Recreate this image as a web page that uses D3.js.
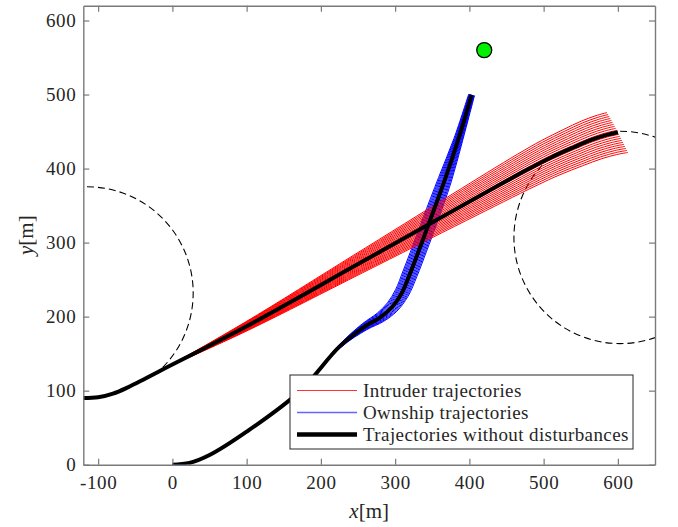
<!DOCTYPE html>
<html>
<head>
<meta charset="utf-8">
<script src="https://cdn.jsdelivr.net/npm/d3@7"></script>
<style>
  body { margin: 0; background: #fff; }
  text { font-family: "Liberation Serif", "Times New Roman", serif; fill: #262626; }
</style>
</head>
<body>
<div id="chart"></div>
<script>
// Nominal trajectories (metres)
var intruderX = [-120, -100, -80, -60, -40, -17.5, 100, 250, 387, 477, 510, 540, 565, 585, 600];
var intruderY = [90, 91, 96, 104.5, 114.5, 126.3, 187, 271, 348, 398, 415, 428.5, 439, 445.5, 449];
var intruderPivot = 5; // disturbed runs fan out where the intruder leaves its circle
var intruderHeadingDev = [-2.5, -2.25, -2, -1.75, -1.5, -1.25, -1, -0.75, -0.5, -0.25, 0,
                          0.25, 0.5, 0.75, 1, 1.25, 1.5, 1.75, 2, 2.25, 2.5]; // degrees

var ownshipX = [0, 23, 50, 100, 171, 225, 259, 280, 296, 309, 320, 333, 347, 367, 385, 403];
var ownshipY = [0, 2.3, 13, 44.6, 98.6, 159.5, 186.5, 199, 213, 232, 258, 292, 330, 385, 439, 499.6];
var ownshipSpread = [0, 0, 0, 0, 0, 2, 5, 7, 8.5, 9.5, 10, 10, 10, 9, 6, 4]; // max lateral deviation (m)
var ownshipDev = [-1, -0.85, -0.7, -0.55, -0.4, -0.25, -0.1, 0.1, 0.25, 0.4, 0.55, 0.7, 0.85, 1];

var goal = [420, 560];
var circleCx = [-115, 603];
var circleCy = [232, 307];
var circleR = [143, 143];
var arcFrom = [90, 90];     // degrees, drawn clockwise
var arcTo = [-47, -227];

var xTicks = [-100, 0, 100, 200, 300, 400, 500, 600];
var yTicks = [0, 100, 200, 300, 400, 500, 600];
var legendLabels = ["Intruder trajectories", "Ownship trajectories", "Trajectories without disturbances"];

var width = 678, height = 527;
var margin = {top: 5.7, right: 23, bottom: 62.3, left: 83.3};

var svg = d3.select("#chart").append("svg")
    .attr("width", width)
    .attr("height", height);

var x = d3.scaleLinear().domain([-120, 650]).range([margin.left, width - margin.right]);
var y = d3.scaleLinear().domain([0, 620]).range([height - margin.bottom, margin.top]);

svg.append("clipPath").attr("id", "plot-clip")
  .append("rect")
    .attr("x", margin.left).attr("y", margin.top)
    .attr("width", x.range()[1] - x.range()[0])
    .attr("height", y.range()[0] - y.range()[1]);

var plot = svg.append("g").attr("clip-path", "url(#plot-clip)");

var line = d3.line()
    .x(function (d) { return x(d[0]); })
    .y(function (d) { return y(d[1]); })
    .curve(d3.curveCatmullRom.alpha(0.5));

var intruder = intruderX.map(function (v, i) { return [v, intruderY[i]]; });
var ownship = ownshipX.map(function (v, i) { return [v, ownshipY[i]]; });

// disturbed intruder run: the part after the pivot turned by a heading error
var rotated = function (pts, pivot, deg) {
    var a = deg * Math.PI / 180, p = pts[pivot];
    return pts.map(function (q, i) {
        if (i <= pivot) return q;
        var dx = q[0] - p[0], dy = q[1] - p[1];
        return [p[0] + dx * Math.cos(a) - dy * Math.sin(a), p[1] + dx * Math.sin(a) + dy * Math.cos(a)];
    });
};

// disturbed ownship run: lateral offset along the nominal path
var shifted = function (pts, spread, w) {
    return pts.map(function (q, i) {
        var a = pts[Math.max(i - 1, 0)], b = pts[Math.min(i + 1, pts.length - 1)];
        var dx = b[0] - a[0], dy = b[1] - a[1], n = Math.sqrt(dx * dx + dy * dy);
        return [q[0] - dy / n * spread[i] * w, q[1] + dx / n * spread[i] * w];
    });
};

// dashed turn circles
circleCx.forEach(function (cx, i) {
    var k = x(1) - x(0);
    var p = d3.path();
    var a0 = -arcFrom[i] * Math.PI / 180, a1 = -arcTo[i] * Math.PI / 180;
    p.moveTo(x(cx) + circleR[i] * k * Math.cos(a0), y(circleCy[i]) + circleR[i] * k * Math.sin(a0));
    p.arc(x(cx), y(circleCy[i]), circleR[i] * k, a0, a1, false);
    plot.append("path")
        .attr("d", p.toString())
        .attr("fill", "none")
        .attr("stroke", "#000")
        .attr("stroke-width", 1.1)
        .attr("stroke-dasharray", "7,4");
});

plot.selectAll(".ownship-run")
  .data(ownshipDev)
  .enter().append("path")
    .attr("class", "ownship-run")
    .attr("d", function (w) { return line(shifted(ownship, ownshipSpread, w)); })
    .attr("fill", "none")
    .attr("stroke", "#0000ff")
    .attr("stroke-width", 1);

plot.selectAll(".intruder-run")
  .data(intruderHeadingDev)
  .enter().append("path")
    .attr("class", "intruder-run")
    .attr("d", function (deg) { return line(rotated(intruder, intruderPivot, deg)); })
    .attr("fill", "none")
    .attr("stroke", "#ff0000")
    .attr("stroke-width", 1);

[intruder, ownship].forEach(function (pts) {
    plot.append("path")
        .attr("d", line(pts))
        .attr("fill", "none")
        .attr("stroke", "#000")
        .attr("stroke-width", 4)
        .attr("stroke-linejoin", "round");
});

plot.append("circle")
    .attr("cx", x(goal[0]))
    .attr("cy", y(goal[1]))
    .attr("r", 7.5)
    .attr("fill", "#00f000")
    .attr("stroke", "#000")
    .attr("stroke-width", 1.3);

// axes, MATLAB style box with inward ticks
var fmt = function (d) { return String(d); };
var axisColor = "#7a7a7a";

var styleAxis = function (g) {
    g.select(".domain").attr("stroke", axisColor).attr("stroke-width", 1.4);
    g.selectAll(".tick line").attr("stroke", axisColor).attr("stroke-width", 1.2);
    g.selectAll("text").attr("font-size", 19).style("letter-spacing", "0.6px");
};

svg.append("g")
    .attr("transform", "translate(0," + y.range()[0] + ")")
    .call(d3.axisBottom(x).tickValues(xTicks).tickFormat(fmt).tickSizeInner(-6).tickSizeOuter(0).tickPadding(11))
    .call(styleAxis);
svg.append("g")
    .attr("transform", "translate(0," + y.range()[1] + ")")
    .call(d3.axisTop(x).tickValues(xTicks).tickFormat("").tickSizeInner(-6).tickSizeOuter(0))
    .call(styleAxis);
svg.append("g")
    .attr("transform", "translate(" + x.range()[0] + ",0)")
    .call(d3.axisLeft(y).tickValues(yTicks).tickFormat(fmt).tickSizeInner(-6).tickSizeOuter(0).tickPadding(7))
    .call(styleAxis);
svg.append("g")
    .attr("transform", "translate(" + x.range()[1] + ",0)")
    .call(d3.axisRight(y).tickValues(yTicks).tickFormat("").tickSizeInner(-6).tickSizeOuter(0))
    .call(styleAxis);

// axis titles
var xt = svg.append("text")
    .attr("x", (x.range()[0] + x.range()[1]) / 2)
    .attr("y", 518)
    .attr("text-anchor", "middle")
    .attr("font-size", 21);
xt.append("tspan").attr("font-style", "italic").text("x");
xt.append("tspan").text("[m]");

var yt = svg.append("text")
    .attr("transform", "translate(33," + (y.range()[0] + y.range()[1]) / 2 + ") rotate(-90)")
    .attr("text-anchor", "middle")
    .attr("font-size", 21);
yt.append("tspan").attr("font-style", "italic").text("y");
yt.append("tspan").text("[m]");

// legend
var legend = svg.append("g").attr("transform", "translate(290,375)");
legend.append("rect")
    .attr("width", 343)
    .attr("height", 74)
    .attr("fill", "#fff")
    .attr("stroke", "#262626")
    .attr("stroke-width", 1);

var legendStyle = [["#ff3333", 1], ["#6666ff", 1.5], ["#000", 4.5]];
legendLabels.forEach(function (lab, i) {
    var ly = 15.5 + i * 22;
    legend.append("line")
        .attr("x1", 7).attr("x2", 67)
        .attr("y1", ly).attr("y2", ly)
        .attr("stroke", legendStyle[i][0])
        .attr("stroke-width", legendStyle[i][1]);
    legend.append("text")
        .attr("x", 73)
        .attr("y", ly + 6)
        .attr("font-size", 19)
        .style("letter-spacing", "0.4px")
        .text(lab);
});
</script>
</body>
</html>
